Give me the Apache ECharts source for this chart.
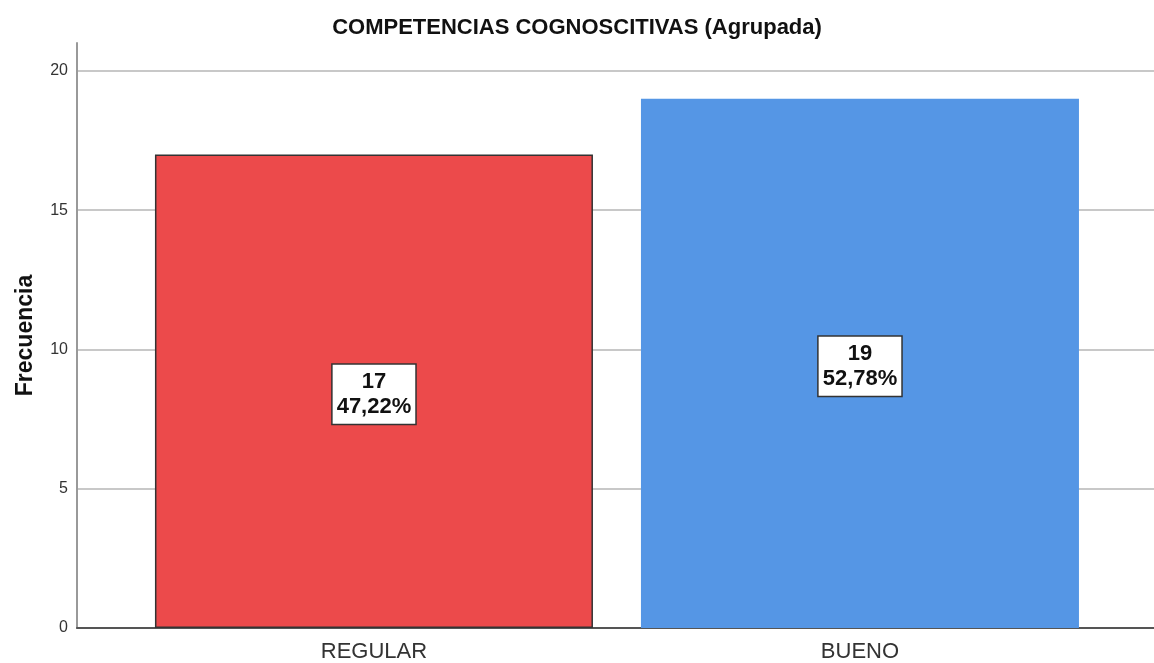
<!DOCTYPE html>
<html>
<head>
<meta charset="utf-8">
<script src="https://cdn.jsdelivr.net/npm/echarts@6/dist/echarts.min.js"></script>
<style>
  html, body { margin: 0; padding: 0; background: #fff; }
  #chart { width: 1154px; height: 663px; }
</style>
</head>
<body>
<div id="chart"></div>
<script>
const categories = ['REGULAR', 'BUENO']
const counts = [17, 19]
const percents = ['47,22%', '52,78%']
const barColors = ['#EC4A4B', '#5596E5']
const yTicks = [0, 5, 10, 15, 20]

const chart = echarts.init(document.getElementById('chart'))
const font = 'Liberation Sans, Arial, sans-serif'

const option = {
  animation: false,
  title: {
    text: 'COMPETENCIAS COGNOSCITIVAS (Agrupada)',
    left: 'center',
    top: 12,
    textStyle: {
      fontFamily: font,
      fontSize: 22,
      fontWeight: 'bold',
      color: '#111'
    }
  },
  grid: {
    left: 77,
    right: 0,
    top: 43,
    bottom: 35,
    outerBoundsMode: 'none'
  },
  xAxis: {
    type: 'value',
    min: -0.611,
    max: 1.605,
    splitLine: { show: false },
    axisTick: { show: false },
    axisLine: { show: true, onZero: false, lineStyle: { color: '#555', width: 2 } },
    axisLabel: {
      customValues: categories.map((c, i) => i),
      formatter: v => categories[Math.round(v)] || '',
      fontFamily: font,
      fontSize: 22,
      color: '#333',
      margin: 13
    }
  },
  yAxis: {
    type: 'value',
    min: 0,
    max: 21,
    interval: 5,
    name: 'Frecuencia',
    nameLocation: 'middle',
    nameGap: 40,
    nameTextStyle: {
      fontFamily: font,
      fontSize: 23,
      fontWeight: 'bold',
      color: '#111'
    },
    axisLine: { show: true, onZero: false, lineStyle: { color: '#999', width: 2 } },
    axisTick: { show: false },
    splitLine: { show: true, showMaxLine: false, lineStyle: { color: '#c8c8c8', width: 2 } },
    axisLabel: {
      showMaxLabel: false,
      formatter: v => (yTicks.indexOf(v) > -1 ? String(v) : ''),
      fontFamily: font,
      fontSize: 16,
      color: '#333',
      margin: 9
    }
  },
  series: [{
    type: 'bar',
    barWidth: 438,
    data: categories.map((c, i) => ({
      value: [i, counts[i]],
      itemStyle: {
        color: barColors[i],
        borderColor: i === 0 ? '#333' : barColors[i],
        borderWidth: i === 0 ? 1.5 : 0
      }
    })),
    label: {
      show: true,
      position: 'inside',
      offset: [0, 3],
      formatter: p => counts[p.dataIndex] + '\n' + percents[p.dataIndex],
      fontFamily: font,
      fontSize: 22,
      fontWeight: 'bold',
      lineHeight: 25,
      color: '#111',
      backgroundColor: '#fff',
      borderColor: '#333',
      borderWidth: 1.5,
      padding: [5, 4, 4, 4]
    }
  }]
}

chart.setOption(option)
</script>
</body>
</html>
